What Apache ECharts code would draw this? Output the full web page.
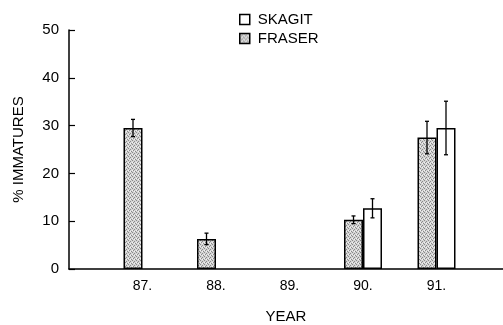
<!DOCTYPE html>
<html><head><meta charset="utf-8">
<script src="https://cdn.jsdelivr.net/npm/echarts@6/dist/echarts.min.js"></script>
<style>html,body{margin:0;padding:0;background:#fff}#c{width:503px;height:325px}</style>
</head><body><div id="c"></div>
<script>
var years = [87, 88, 89, 90, 91];
var yearLabels = ['87.', '88.', '89.', '90.', '91.'];
var fraser = [29.5, 6.3, null, 10.3, 27.5];
var fraserErr = [1.8, 1.2, null, 0.8, 3.4];
var skagit = [null, null, null, 12.7, 29.5];
var skagitErr = [null, null, null, 2.0, 5.6];
var yTicks = [0, 10, 20, 30, 40, 50];

var FONT = 'Liberation Sans';
var BAR_W = 19;

// stippled gray fill pattern
var pat = document.createElement('canvas');
pat.width = 4; pat.height = 4;
(function () {
  var g = pat.getContext('2d');
  g.fillStyle = '#d4d4d4'; g.fillRect(0, 0, 4, 4);
  g.fillStyle = '#8a8a8a';
  [[0, 0], [2, 1], [1, 2], [3, 3]].forEach(function (p) { g.fillRect(p[0], p[1], 1, 1); });
  g.fillStyle = '#f2f2f2';
  [[2, 3], [0, 2]].forEach(function (p) { g.fillRect(p[0], p[1], 1, 1); });
})();

function pairs(vals) {
  var out = [];
  for (var i = 0; i < years.length; i++) out.push([years[i], vals[i]]);
  return out;
}
function errData(vals, errs) {
  var out = [];
  for (var i = 0; i < vals.length; i++) {
    if (vals[i] != null && errs[i] != null) out.push([years[i], vals[i], errs[i]]);
  }
  return out;
}
function errRender(offset) {
  return function (params, api) {
    var xv = api.value(0), v = api.value(1), e = api.value(2);
    var top = api.coord([xv, v + e]);
    var bot = api.coord([xv, v - e]);
    var x = top[0] + offset;
    var cap = 2;
    var st = { stroke: '#000', lineWidth: 1.3 };
    return {
      type: 'group',
      children: [
        { type: 'line', shape: { x1: x, y1: top[1], x2: x, y2: bot[1] }, style: st },
        { type: 'line', shape: { x1: x - cap, y1: top[1], x2: x + cap, y2: top[1] }, style: st },
        { type: 'line', shape: { x1: x - cap, y1: bot[1], x2: x + cap, y2: bot[1] }, style: st }
      ]
    };
  };
}

var chart = echarts.init(document.getElementById('c'), null, { renderer: 'canvas' });
var fraserFill = { image: pat, repeat: 'repeat' };
chart.setOption({
  animation: false,
  backgroundColor: '#fff',
  textStyle: { fontFamily: FONT, color: '#000' },
  legend: {
    data: [
      { name: 'SKAGIT', itemStyle: { color: '#fff', borderColor: '#000', borderWidth: 1.5 } },
      { name: 'FRASER', itemStyle: { color: fraserFill, borderColor: '#000', borderWidth: 1.5 } }
    ],
    orient: 'vertical',
    left: 234, top: 7,
    padding: 5,
    itemWidth: 10, itemHeight: 10, itemGap: 4,
    icon: 'rect',
    textStyle: { fontFamily: FONT, fontSize: 15, color: '#000', padding: [0, 0, 0, 3] }
  },
  grid: { left: 69, right: 0, top: 30, bottom: 56, containLabel: false, outerBoundsMode: 'none' },
  xAxis: {
    type: 'value',
    min: 86, max: 86 + 434 / 73.5, interval: 1,
    axisLine: { onZero: false, lineStyle: { color: '#000', width: 1.5 } },
    axisTick: { show: false },
    splitLine: { show: false },
    axisLabel: { color: '#000', fontFamily: FONT, fontSize: 14, margin: 10, showMaxLabel: false,
      formatter: function (v) { var k = years.indexOf(Math.round(v)); return (k >= 0 && Math.abs(v - years[k]) < 1e-6) ? yearLabels[k] : ''; } },
    name: 'YEAR', nameLocation: 'middle', nameGap: 40,
    nameTextStyle: { color: '#000', fontFamily: FONT, fontSize: 15, align: 'center' }
  },
  yAxis: {
    type: 'value', min: 0, max: 50, interval: 10,
    axisLine: { show: true, lineStyle: { color: '#000', width: 1.5 } },
    axisTick: { show: true, inside: true, length: 6, lineStyle: { color: '#000', width: 1.2 } },
    splitLine: { show: false },
    axisLabel: { color: '#000', fontFamily: FONT, fontSize: 15, margin: 10,
      formatter: function (v) { return yTicks.indexOf(v) >= 0 ? String(v) : ''; } },
    name: '% IMMATURES', nameLocation: 'middle', nameGap: 43, nameRotate: 90,
    nameTextStyle: { color: '#000', fontFamily: FONT, fontSize: 15 }
  },
  series: [
    { name: 'FRASER', type: 'bar', data: pairs(fraser), barWidth: BAR_W, barGap: '0%',
      itemStyle: { color: fraserFill, borderColor: '#000', borderWidth: 1.5 } },
    { name: 'SKAGIT', type: 'bar', data: pairs(skagit), barWidth: BAR_W, barGap: '0%',
      itemStyle: { color: '#fff', borderColor: '#000', borderWidth: 1.5 } },
    { name: 'fraserErr', type: 'custom', data: errData(fraser, fraserErr),
      renderItem: errRender(-BAR_W / 2), z: 10, silent: true },
    { name: 'skagitErr', type: 'custom', data: errData(skagit, skagitErr),
      renderItem: errRender(BAR_W / 2), z: 10, silent: true }
  ]
});
</script></body></html>
